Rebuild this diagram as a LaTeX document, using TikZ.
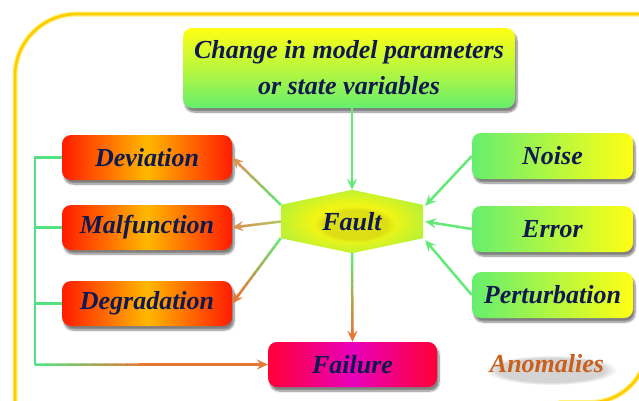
\documentclass[tikz,border=0pt]{standalone}
\usepackage{fontspec}
\setmainfont{Liberation Serif}
\usetikzlibrary{calc,arrows.meta,shadows.blur,backgrounds,fadings}

\definecolor{ink}{RGB}{15,25,80}
\definecolor{lgreen}{RGB}{102,238,110}
\definecolor{lyellow}{RGB}{255,255,20}
\definecolor{cgreen}{RGB}{100,232,118}
\definecolor{bgreen}{RGB}{84,226,128}
\definecolor{corange}{RGB}{232,118,52}
\definecolor{ctan}{RGB}{218,150,82}
\definecolor{colive}{RGB}{178,200,96}
\definecolor{fred}{RGB}{255,28,0}
\definecolor{forange}{RGB}{255,184,0}
\definecolor{pred}{RGB}{255,0,56}
\definecolor{pmag}{RGB}{232,0,186}
\definecolor{framecol}{RGB}{255,204,0}
\definecolor{frameglow}{RGB}{255,240,120}
\definecolor{anom}{RGB}{200,96,30}
\definecolor{hy}{RGB}{240,245,20}
\definecolor{hg}{RGB}{102,236,104}
\definecolor{glowcol}{RGB}{190,180,20}

\newcommand\boxfont{\fontsize{26}{36}\selectfont\bfseries\itshape}

% glow used inside the hexagon
\pgfdeclareradialshading{hexglow}{\pgfpoint{0bp}{0bp}}{color(0bp)=(hy); color(14bp)=(hy); color(46bp)=(hg); color(80bp)=(hg)}

\tikzset{
  box/.style={rounded corners=9pt, minimum height=45pt, inner sep=0pt,
    text=ink, font=\boxfont,
    blur shadow={shadow xshift=2pt, shadow yshift=-4pt, shadow opacity=50, shadow blur steps=8}},
  redbox/.style={box, minimum width=170pt, left color=fred, right color=fred, middle color=forange},
  greenbox/.style={box, minimum width=161pt, minimum height=46pt, left color=lgreen, right color=lyellow},
  failbox/.style={box, minimum width=169pt, left color=pred, right color=pred, middle color=pmag},
  topbox/.style={box, minimum width=332pt, minimum height=80pt, align=center,
    top color=lyellow, bottom color=lgreen, middle color=lyellow!55!lgreen},
  conn/.style={line width=2.5pt},
  tipped/.style={-{Stealth[length=11pt,width=10pt,inset=4pt]}},
  framestroke/.style={line width=#1, line cap=round},
  smudge/.style={path fading=circle with fuzzy edge 20 percent},
}

% connector whose colour runs from #3 at (#1) to #4 at (#2), ending in a tip
\newcommand\gradconn[4]{%
  \coordinate (gc-a) at (#1);
  \coordinate (gc-b) at ($(#2)!7pt!(#1)$);
  \foreach \k in {0,...,11}{
    \pgfmathsetmacro\pa{\k/12}
    \pgfmathsetmacro\pb{(\k+1.15)/12}
    \pgfmathtruncatemacro\pc{100*\k/11}
    \draw[conn,#4!\pc!#3] ($(gc-a)!\pa!(gc-b)$) -- ($(gc-a)!{min(\pb,1)}!(gc-b)$);
  }
  \draw[conn,#4,tipped] ($(#2)!11pt!(#1)$) -- (#2);
}

\begin{document}
\begin{tikzpicture}[x=1pt,y=-1pt]
\useasboundingbox (0,0) rectangle (639,400);

% outer frame: rounded top-left, open to the right, rounded bottom-right
\foreach \w/\c in {5pt/frameglow, 2.6pt/framecol}{
  \draw[\c, framestroke=\w] (15,420) -- (15,76) arc[start angle=180, end angle=270, radius=62] -- (700,14);
  \draw[\c, framestroke=\w] (647.5,345) arc[start angle=0, end angle=90, radius=57.5] -- (560,402.5);
}

% soft shading behind the free-standing label
\fill[black, opacity=0.17, smudge] (551,370) ellipse[x radius=66, y radius=15];

% boxes
\node[topbox] (top) at (349,68) {Change in model parameters\\or state variables};

\node[redbox] (dev) at (147,157.5) {Deviation};
\node[redbox] (mal) at (147,227.5) {Malfunction};
\node[redbox] (deg) at (147,303.5) {Degradation};

\node[greenbox] (noise) at (552.5,156) {Noise};
\node[greenbox] (error) at (552.5,229) {Error};
\node[greenbox] (pert) at (552.5,295) {Perturbation};

\node[failbox] (fail) at (352.5,364.5) {Failure};

\node[text=anom, font=\boxfont] (anomalies) at (547,364) {Anomalies};

% central hexagon with a warm glow behind its label
\node[minimum width=142pt, minimum height=63pt, inner sep=0pt, text=ink, font=\boxfont] (fault) at (352,221.5) {Fault};
\begin{scope}[on background layer]
  \shade[shading=hexglow]
    ($(fault.north west)+(0,15)$) -- (fault.north) -- ($(fault.north east)+(0,15)$)
    -- ($(fault.south east)-(0,15)$) -- (fault.south) -- ($(fault.south west)-(0,15)$) -- cycle;
  \fill[glowcol, opacity=0.35, smudge] ($(fault.center)+(3,3)$) ellipse[x radius=40, y radius=18];
\end{scope}

% inputs into the fault
\draw[conn,cgreen,tipped] (top.south -| fault.north) -- (fault.north);
\draw[conn,cgreen,tipped] (noise.west) -- ($(fault.north east)+(2,16)$);
\draw[conn,cgreen,tipped] (error.west) -- ($(fault.east)+(2,0)$);
\draw[conn,cgreen,tipped] (pert.west) -- ($(fault.south east)+(2,-13)$);

% outputs from the fault
\gradconn{$(fault.north west)+(0,15)$}{dev.east}{cgreen}{ctan}
\gradconn{fault.west}{mal.east}{colive}{ctan}
\gradconn{$(fault.south west)-(0,15)$}{deg.east}{cgreen}{corange}
\gradconn{fault.south}{fail.north}{cgreen}{corange}

% bracket gathering the three states into failure
\coordinate (bt) at (35,157.5);
\coordinate (bb) at (bt |- fail.west);
\coordinate (bm) at (150,0 |- fail.west);
\draw[conn,bgreen,line join=miter] (dev.west) -- (bt) -- (bb);
\draw[conn,bgreen] (mal.west) -- (mal.west -| bt);
\draw[conn,bgreen] (deg.west) -- (deg.west -| bt);
\foreach \k in {0,...,9}{
  \pgfmathtruncatemacro\pc{100*\k/9}
  \draw[conn,corange!\pc!bgreen] ($(bb)!\k/10!(bm)$) -- ($(bb)!{(\k+1.1)/10}!(bm)$);
}
\draw[conn,corange,tipped] (bm) -- (fail.west);
\end{tikzpicture}
\end{document}
